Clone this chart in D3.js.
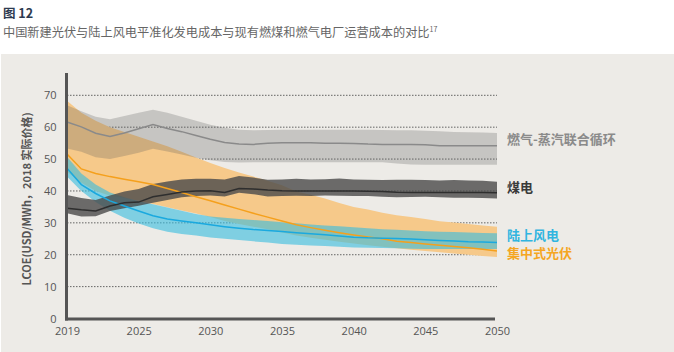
<!DOCTYPE html>
<html><head><meta charset="utf-8">
<script src="https://cdn.jsdelivr.net/npm/d3@7"></script>
<style>
html,body{margin:0;padding:0;background:#fff;}
svg{display:block;font-family:"Noto Sans CJK SC","Noto Sans",sans-serif;}
</style></head>
<body><svg id="c" width="674" height="352"></svg>
<script>
// ---- data ----
const years = [2020,2021,2022,2023,2024,2025,2026,2027,2028,2029,2030,2031,2032,2033,2034,2035,2036,2037,2038,2039,2040,2041,2042,2043,2044,2045,2046,2047,2048,2049,2050];
const tickYears = [2020,2025,2030,2035,2040,2045,2050];
const tickLabels = ["2019","2025","2030","2035","2040","2045","2050"];
const yTicks = [0,10,20,30,40,50,60,70];

const gasMid   = [61.6,60.1,58.1,57.1,58.2,59.5,60.8,59.6,58.6,57.4,56.2,55.2,54.7,54.6,55.0,55.1,55.1,55.1,55.0,55.0,54.9,54.7,54.6,54.6,54.6,54.5,54.2,54.2,54.2,54.2,54.2];
const gasHigh  = [66.9,65.0,63.3,62.5,63.5,64.5,65.5,64.5,63.3,62.0,60.8,59.8,59.2,59.0,59.1,59.2,59.2,59.2,59.2,59.2,59.2,59.2,59.1,59.0,59.0,58.9,58.7,58.5,58.4,58.3,58.2];
const gasLow   = [53.3,52.3,50.6,50.0,51.0,52.0,53.2,52.4,51.4,50.4,49.6,49.1,48.9,49.0,49.0,49.0,49.0,49.0,49.0,49.0,49.0,49.0,49.0,48.6,48.3,48.2,48.2,48.2,48.2,48.2,48.2];

const coalMid  = [34.6,34.1,33.7,35.3,36.3,36.5,38.2,38.9,39.7,40.0,40.1,39.5,40.8,40.6,40.3,40.1,40.0,40.0,40.0,40.0,40.0,39.9,39.8,39.6,39.5,39.5,39.5,39.5,39.5,39.5,39.4];
const coalHigh = [38.7,37.8,37.2,38.6,39.8,40.6,42.2,43.0,43.6,43.8,43.8,43.6,44.7,44.2,43.5,43.6,43.8,43.6,43.7,43.9,43.6,43.5,43.4,43.5,43.5,43.4,43.3,43.4,43.3,43.2,42.9];
const coalLow  = [33.0,32.0,32.1,33.7,34.6,35.4,36.3,37.2,38.0,38.4,38.6,38.3,39.4,39.0,38.3,38.4,38.5,38.4,38.6,38.5,38.4,38.4,38.2,38.0,38.1,38.2,38.0,37.9,37.9,37.8,37.6];

const windMid  = [47.1,42.0,39.2,36.9,35.3,33.7,32.2,31.2,30.6,30.0,29.4,28.8,28.3,27.9,27.6,27.3,26.9,26.6,26.3,25.9,25.5,25.3,25.2,25.1,24.9,24.7,24.5,24.3,24.1,24.0,23.8];
const windHigh = [50.7,45.5,42.0,39.5,38.0,36.8,35.8,34.8,33.8,32.8,32.0,31.6,31.2,30.9,30.6,30.2,29.9,29.5,29.2,28.9,28.6,28.3,28.0,27.8,27.6,27.4,27.2,27.1,27.0,26.8,26.7];
const windLow  = [44.5,40.0,36.5,33.8,31.6,29.8,28.3,27.2,26.5,26.0,25.4,25.0,24.6,24.2,23.8,23.4,23.1,22.9,22.7,22.5,22.3,22.2,22.1,22.0,21.9,21.8,21.8,21.8,21.8,21.8,21.8];

const solarMid  = [51.6,46.9,45.5,44.5,43.7,42.9,42.0,40.8,39.5,38.2,36.9,35.6,34.3,33.0,31.8,30.6,29.4,28.5,27.7,26.9,26.2,25.6,25.0,24.2,23.8,23.4,23.0,22.6,22.2,21.7,21.2];
const solarHigh = [68.3,64.5,62.0,60.0,58.5,57.0,55.5,54.0,52.3,50.5,48.8,47.2,45.8,44.5,43.2,41.8,39.8,38.8,37.6,36.2,35.0,34.2,33.2,32.4,31.8,31.2,30.5,30.1,29.6,29.2,28.8];
const solarLow  = [46.0,42.6,40.0,38.5,37.8,36.9,35.9,34.9,33.9,32.9,31.8,30.6,29.6,28.8,28.0,27.0,26.0,25.3,24.7,24.1,23.5,23.0,22.5,22.0,21.6,21.2,20.8,20.4,20.0,19.6,19.3];

const seriesLabels = ["燃气-蒸汽联合循环","煤电","陆上风电","集中式光伏"];

// ---- drawing ----
const svg = d3.select("#c");
svg.append("rect").attr("x",1).attr("y",54).attr("width",673).attr("height",298).attr("fill","#edebe7");

svg.append("text").attr("x",3).attr("y",18).attr("font-size",12.5).attr("font-weight","bold").attr("fill","#2d3a4f").text("图 12");
const st = svg.append("text").attr("x",3).attr("y",36.5).attr("font-size",12.2).attr("fill","#666");
st.append("tspan").text("中国新建光伏与陆上风电平准化发电成本与现有燃煤和燃气电厂运营成本的对比");
st.append("tspan").attr("font-size",7).attr("dy",-5).text("17");

const x = d3.scaleLinear().domain([2020,2050]).range([67,497]);
const y = d3.scaleLinear().domain([0,70]).range([318.5,95.3]);

// grid
svg.append("g").selectAll("line").data(yTicks.filter(d=>d>0)).join("line")
  .attr("x1",x(2020)).attr("x2",x(2050)).attr("y1",d=>y(d)).attr("y2",d=>y(d))
  .attr("stroke","#555").attr("stroke-width",0.9).attr("stroke-dasharray","1.5,1.5");

const area = (hi,lo)=>d3.area().x((d,i)=>x(years[i])).y0((d,i)=>y(lo[i])).y1((d,i)=>y(hi[i]))(years);
const line = (v)=>d3.line().x((d,i)=>x(years[i])).y((d,i)=>y(v[i]))(years);

svg.append("path").attr("d",area(solarHigh,solarLow)).attr("fill","#f6c98a");
svg.append("path").attr("d",area(gasHigh,gasLow)).attr("fill","#5a5a5a").attr("fill-opacity",0.26);
svg.append("path").attr("d",area(windHigh,windLow)).attr("fill","#36bce0").attr("fill-opacity",0.6);
svg.append("path").attr("d",area(coalHigh,coalLow)).attr("fill","#4a4a4a").attr("fill-opacity",0.8);

svg.append("path").attr("d",line(gasMid)).attr("fill","none").attr("stroke","#8a8a8a").attr("stroke-width",1.5);
svg.append("path").attr("d",line(solarMid)).attr("fill","none").attr("stroke","#f5a01c").attr("stroke-width",1.5);
svg.append("path").attr("d",line(windMid)).attr("fill","none").attr("stroke","#1aa9df").attr("stroke-width",1.5);
svg.append("path").attr("d",line(coalMid)).attr("fill","none").attr("stroke","#2e2e2e").attr("stroke-width",1.5);

// axes
const yAxis = d3.axisLeft(y).tickValues(yTicks).tickSize(0).tickPadding(10);
const gy = svg.append("g").attr("transform","translate(66.5,0)").call(yAxis);
gy.select(".domain").remove();
gy.selectAll("text").attr("font-size",11).attr("fill","#555").attr("font-family","'Open Sans','Noto Sans',sans-serif");

const xAxis = d3.axisBottom(x).tickValues(tickYears).tickFormat((d,i)=>tickLabels[i]).tickSize(0).tickPadding(8);
const gx = svg.append("g").attr("transform","translate(0,319)").call(xAxis);
gx.select(".domain").remove();
gx.selectAll("text").attr("font-size",11).attr("fill","#555").attr("font-family","'Open Sans','Noto Sans',sans-serif");

svg.append("line").attr("x1",66.5).attr("x2",66.5).attr("y1",73).attr("y2",320.5).attr("stroke","#555").attr("stroke-width",3);
svg.append("line").attr("x1",65).attr("x2",x(2050)-2).attr("y1",319).attr("y2",319).attr("stroke","#555").attr("stroke-width",3);

svg.append("text").attr("transform","translate(31,199) rotate(-90)").attr("text-anchor","middle")
  .attr("font-size",11).attr("font-weight","bold").attr("fill","#555").text("LCOE(USD/MWh，2018 实际价格)");

// series labels
const labY = [138,186,234.5,252.5];
const labC = ["#8a8a8a","#3a3a3a","#31b5e0","#f5a623"];
svg.append("g").selectAll("text").data(seriesLabels).join("text")
  .attr("x",507).attr("y",(d,i)=>labY[i]).attr("dominant-baseline","central")
  .attr("font-size",13).attr("font-weight","bold").attr("fill",(d,i)=>labC[i]).text(d=>d);
</script></body></html>
